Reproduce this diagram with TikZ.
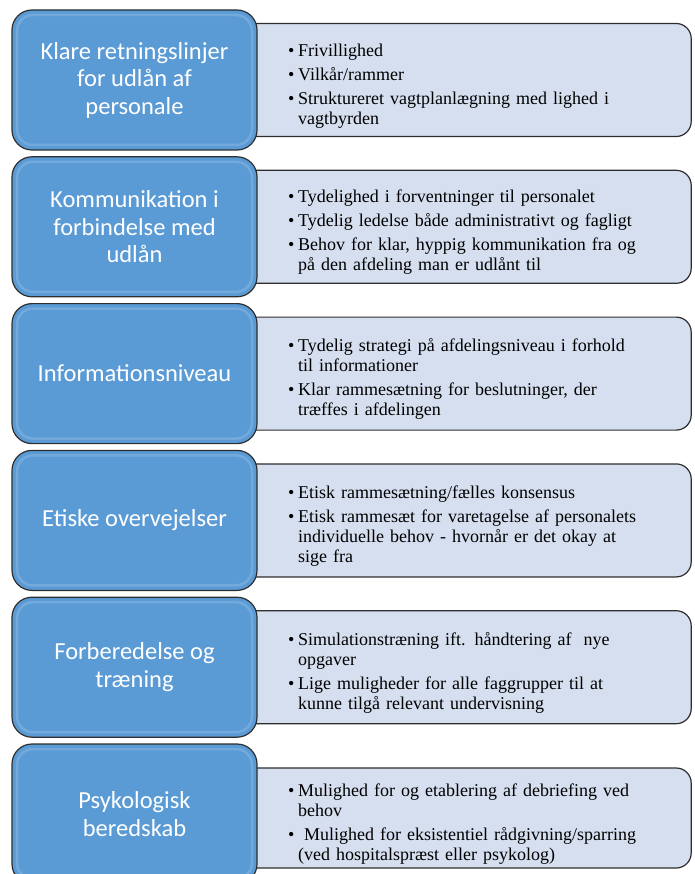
\documentclass[tikz,border=0pt]{standalone}
\usepackage{fontspec}
\setmainfont{Liberation Serif}
\newfontfamily\calib{Carlito}
\usetikzlibrary{positioning, backgrounds}
\usepackage{xcolor}
\definecolor{topicblue}{HTML}{5B9BD5}
\definecolor{detailblue}{HTML}{D6DFEF}
\definecolor{edgegray}{HTML}{2E2E2E}
% one bullet point with hanging indent
\newcommand{\pkt}[1]{\par\setlength{\parskip}{4pt}\setlength{\leftskip}{27pt}\hangindent=10pt\hangafter=1\noindent\hbox to 10pt{\textbullet\hfil}#1\par}

\begin{document}
\begin{tikzpicture}[node distance=5.6pt,
  topic/.style={rectangle, rounded corners=20pt, draw=edgegray, line width=1.2pt, fill=topicblue, text=white, minimum width=245pt, minimum height=140pt, align=center, font=\calib\fontsize{24.5}{27.5}\selectfont,
    path picture={\draw[white, opacity=0.15, line width=2.5pt, rounded corners=16pt] ([shift={(5pt,-5pt)}]path picture bounding box.north west) rectangle ([shift={(-5pt,5pt)}]path picture bounding box.south east);}},
  detail/.style={rectangle, rounded corners=15pt, draw=edgegray, line width=1.2pt, fill=detailblue, minimum width=465pt, minimum height=113pt, text width=395pt, inner xsep=35pt, align=left, font=\fontsize{18}{20}\selectfont, right=-32pt of #1}]
  \useasboundingbox (0,0) rectangle (694pt,-874pt);
  \node[topic] (ret) at (134.5pt,-80pt) {Klare retningslinjer\\for udlån af\\personale};
  \node[topic, below=of ret] (kom) {Kommunikation i\\forbindelse med\\udlån};
  \node[topic, below=of kom] (info) {Informationsniveau};
  \node[topic, below=of info] (etik) {Etiske overvejelser};
  \node[topic, below=of etik] (forb) {Forberedelse og\\træning};
  \node[topic, below=of forb] (psyk) {Psykologisk\\beredskab};
  \begin{scope}[on background layer]
    \node[detail=ret] (retList) {\pkt{Frivillighed}\pkt{Vilkår/rammer}\pkt{Struktureret vagtplanlægning med lighed i\newline vagtbyrden}};
    \node[detail=kom] (komList) {\pkt{Tydelighed i forventninger til personalet}\pkt{Tydelig ledelse både administrativt og fagligt}\pkt{Behov for klar, hyppig kommunikation fra og\newline på den afdeling man er udlånt til}};
    \node[detail=info] (infoList) {\pkt{Tydelig strategi på afdelingsniveau i forhold\newline til informationer}\pkt{Klar rammesætning for beslutninger, der\newline træffes i afdelingen}};
    \node[detail=etik] (etikList) {\pkt{Etisk rammesætning/fælles konsensus}\pkt{Etisk rammesæt for varetagelse af personalets\newline individuelle behov - hvornår er det okay at\newline sige fra}};
    \node[detail=forb] (forbList) {\pkt{Simulationstræning ift. håndtering af~ nye\newline opgaver}\pkt{Lige muligheder for alle faggrupper til at\newline kunne tilgå relevant undervisning}};
    \node[detail=psyk, minimum height=100pt, yshift=-4pt] (psykList) {\pkt{Mulighed for og etablering af debriefing ved\newline behov}\pkt{~Mulighed for eksistentiel rådgivning/sparring\newline (ved hospitalspræst eller psykolog)}};
  \end{scope}
\end{tikzpicture}
\end{document}
